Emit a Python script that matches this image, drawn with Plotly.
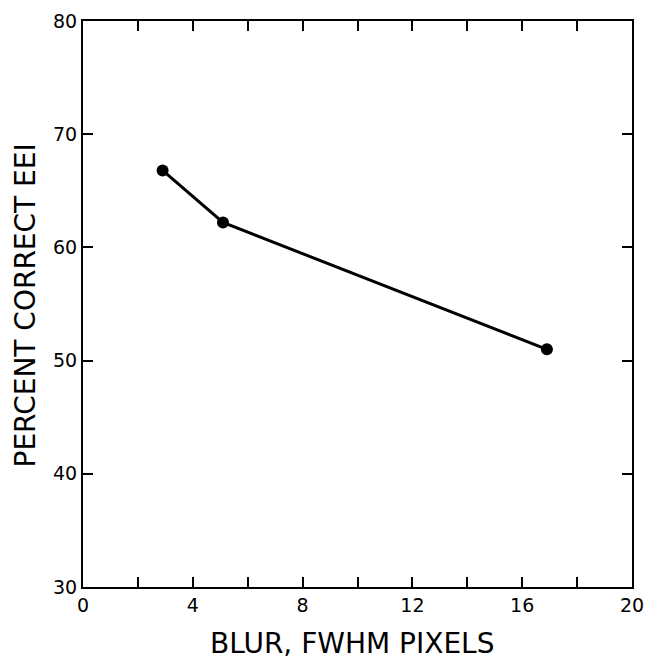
import plotly.graph_objects as go

# Blur (FWHM, pixels) versus percent correct
blur_fwhm = [2.9, 5.1, 16.9]
percent_correct = [66.8, 62.2, 51.0]

x_tick_vals = [0, 4, 8, 12, 16, 20]
y_tick_vals = [30, 40, 50, 60, 70, 80]

x_title = "BLUR, FWHM PIXELS"
y_title = "PERCENT CORRECT EEI"

font_family = "DejaVu Sans, Liberation Sans, sans-serif"

fig = go.Figure()
fig.add_trace(go.Scatter(
    x=blur_fwhm,
    y=percent_correct,
    mode="lines+markers",
    line=dict(color="black", width=3),
    marker=dict(color="black", size=12),
    showlegend=False,
))

axis_common = dict(
    showgrid=False,
    zeroline=False,
    showline=True,
    linecolor="black",
    linewidth=2,
    mirror="ticks",
    ticks="inside",
    tickcolor="black",
    tickwidth=2,
    ticklen=10,
    automargin=False,
    tickfont=dict(family=font_family, size=19, color="black"),
)

fig.update_xaxes(
    range=[0, 20],
    tickvals=x_tick_vals,
    ticktext=[str(v) for v in x_tick_vals],
    minor=dict(dtick=2, ticks="inside", ticklen=10, tickwidth=2, tickcolor="black"),
    **axis_common,
)
fig.update_yaxes(
    range=[30, 80],
    tickvals=y_tick_vals,
    ticktext=[str(v) for v in y_tick_vals],
    **axis_common,
)

# Axis titles placed as annotations for exact positioning
fig.add_annotation(
    text=x_title, xref="paper", yref="paper", x=0.49, y=-0.099,
    xanchor="center", yanchor="middle", showarrow=False,
    font=dict(family=font_family, size=28, color="black"),
)
fig.add_annotation(
    text=y_title, xref="paper", yref="paper", x=-0.105, y=0.498,
    xanchor="center", yanchor="middle", showarrow=False, textangle=-90,
    font=dict(family=font_family, size=28, color="black"),
)

fig.update_layout(
    width=647,
    height=659,
    margin=dict(l=83, r=15, t=21, b=72),
    paper_bgcolor="white",
    plot_bgcolor="white",
)

fig.write_html("out.html")
